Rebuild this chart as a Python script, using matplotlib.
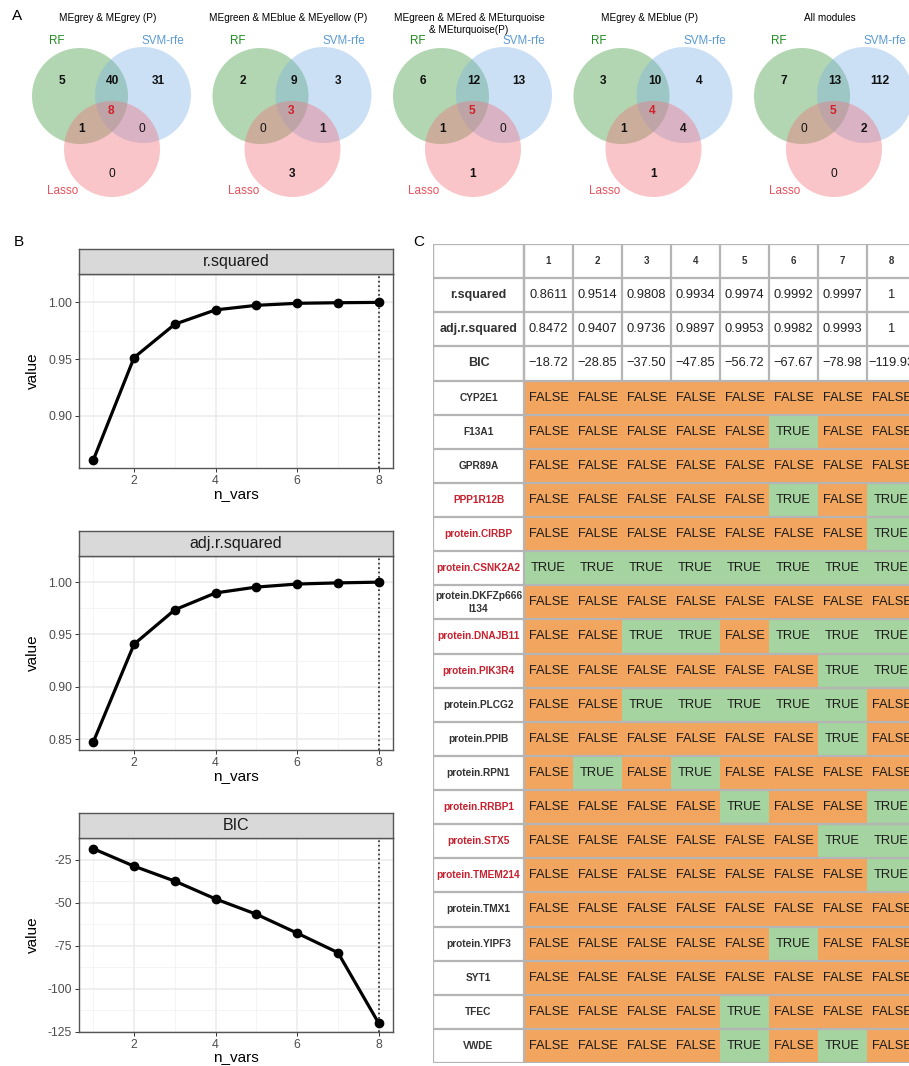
import numpy as np
import matplotlib.pyplot as plt
from matplotlib.patches import Circle, Rectangle

plt.rcParams['font.family'] = ['Liberation Sans', 'DejaVu Sans']
plt.rcParams['axes.unicode_minus'] = False

W, H = 909, 1066

# ---- panel A: venn counts
# order: RF only, RF&SVM, SVM only, all three, RF&Lasso, SVM&Lasso, Lasso only
venn_titles = ["MEgrey & MEgrey (P)",
               "MEgreen & MEblue & MEyellow (P)",
               "MEgreen & MEred & MEturquoise\n& MEturquoise(P)",
               "MEgrey & MEblue (P)",
               "All modules"]
venn_counts = [[5, 40, 31, 8, 1, 0, 0],
               [2, 9, 3, 3, 0, 1, 3],
               [6, 12, 13, 5, 1, 0, 1],
               [3, 10, 4, 4, 1, 4, 1],
               [7, 13, 112, 5, 0, 2, 0]]
set_names = ["RF", "SVM-rfe", "Lasso"]

# ---- panel B / C: subset regression
n_vars = [1, 2, 3, 4, 5, 6, 7, 8]
r_squared = [0.8611, 0.9514, 0.9808, 0.9934, 0.9974, 0.9992, 0.9997, 1.0]
adj_r_squared = [0.8472, 0.9407, 0.9736, 0.9897, 0.9953, 0.9982, 0.9993, 1.0]
bic = [-18.72, -28.85, -37.50, -47.85, -56.72, -67.67, -78.98, -119.93]

genes = ["CYP2E1", "F13A1", "GPR89A", "PPP1R12B", "protein.CIRBP",
         "protein.CSNK2A2", "protein.DKFZp666I134", "protein.DNAJB11",
         "protein.PIK3R4", "protein.PLCG2", "protein.PPIB", "protein.RPN1",
         "protein.RRBP1", "protein.STX5", "protein.TMEM214", "protein.TMX1",
         "protein.YIPF3", "SYT1", "TFEC", "VWDE"]
# model sizes in which each gene is selected
selected_in = [[], [6], [], [6, 8], [8],
               [1, 2, 3, 4, 5, 6, 7, 8], [], [3, 4, 6, 7, 8],
               [7, 8], [3, 4, 5, 6, 7], [7], [2, 4],
               [5, 8], [7, 8], [8], [],
               [6], [], [5], [5, 7]]
red_genes = ["PPP1R12B", "protein.CIRBP", "protein.CSNK2A2", "protein.DNAJB11",
             "protein.PIK3R4", "protein.RRBP1", "protein.STX5", "protein.TMEM214"]

fig = plt.figure(figsize=(W / 100, H / 100), dpi=100)


def px_axes(x0, y0, x1, y1):
    return fig.add_axes([x0 / W, 1 - y1 / H, (x1 - x0) / W, (y1 - y0) / H])


# ---------------- A: venn diagrams
circle_xy = [(80, 96), (143, 95), (112, 149)]
circle_r = 48
circle_cols = ['#3c9a3c', '#7fb2e5', '#f0707a']
label_cols = ['#1e8c1e', '#5b9bd5', '#e8505b']
label_xy = [(57, 41), (163, 41), (63, 191)]
region_xy = [(62, 81), (113, 81), (158, 81), (111, 111), (82, 129), (142, 129), (112, 174)]

for i, (title, counts) in enumerate(zip(venn_titles, venn_counts)):
    x0 = i * 180.5
    ax = px_axes(x0, 0, x0 + 200, 200)
    ax.set_xlim(0, 200)
    ax.set_ylim(200, 0)
    ax.axis('off')
    for (cx, cy), c in zip(circle_xy, circle_cols):
        ax.add_patch(Circle((cx, cy), circle_r, facecolor=c, alpha=0.4, edgecolor='none'))
    for (lx, ly), name, c in zip(label_xy, set_names, label_cols):
        ax.text(lx, ly, name, color=c, fontsize=8.4, ha='center', va='center')
    for k, ((rx, ry), n) in enumerate(zip(region_xy, counts)):
        col = '#d0202a' if k == 3 else '#111111'
        ax.text(rx, ry, str(n), color=col, fontsize=8.6, ha='center', va='center',
                fontweight='bold' if n != 0 else 'normal')
    ax.text(108, 13, title, fontsize=7.2, ha='center', va='top', linespacing=1.25)

fig.text(12 / W, 1 - 16 / H, "A", fontsize=11, va='center')
fig.text(14 / W, 1 - 242 / H, "B", fontsize=11, va='center')
fig.text(413 / W, 1 - 242 / H, "C", fontsize=11, va='center')

# ---------------- B: metric vs n_vars
b_panels = [("r.squared", r_squared, 274, 468, [0.90, 0.95, 1.00], "{:.2f}", 27),
            ("adj.r.squared", adj_r_squared, 556, 750, [0.85, 0.90, 0.95, 1.00], "{:.2f}", 27),
            ("BIC", bic, 838, 1032, [-125, -100, -75, -50, -25], "{:.0f}", 26)]

for name, vals, y0, y1, ticks, fmt, xlab_gap in b_panels:
    ax = px_axes(79, y0, 393, y1)
    lo, hi = min(vals), max(vals)
    pad = (hi - lo) * 0.05
    ax.set_ylim(lo - pad, hi + pad)
    ax.set_xlim(0.65, 8.35)
    ax.set_xticks([2, 4, 6, 8])
    ax.set_xticks([1, 3, 5, 7], minor=True)
    ax.set_yticks(ticks)
    ax.set_yticks([t + (ticks[1] - ticks[0]) / 2 for t in ticks], minor=True)
    ax.set_yticklabels([fmt.format(t) for t in ticks])
    ax.grid(which='major', color='#ebebeb', lw=1.1)
    ax.grid(which='minor', color='#f2f2f2', lw=0.6)
    ax.set_axisbelow(True)
    ax.tick_params(which='major', length=3, width=0.7, color='#333333',
                   labelsize=8.8, labelcolor='#4d4d4d', pad=2)
    ax.tick_params(which='minor', length=0)
    for s in ax.spines.values():
        s.set_color('#555555')
        s.set_linewidth(1)
    ax.axvline(n_vars[-1], ls=':', color='#222222', lw=1.2, zorder=1)
    ax.plot(n_vars, vals, color='black', lw=2.3, marker='o', markersize=6, zorder=3)
    ax.set_xlabel('n_vars', fontsize=11, va='center')
    ax.xaxis.set_label_coords(0.5, -xlab_gap / (y1 - y0))
    ax.set_ylabel('value', fontsize=11, va='center')
    ax.yaxis.set_label_coords(-(79 - 33) / 314, 0.5)

    st = px_axes(79, y0 - 25, 393, y0)
    st.set_xticks([])
    st.set_yticks([])
    st.set_facecolor('#d9d9d9')
    for s in st.spines.values():
        s.set_color('#555555')
        s.set_linewidth(1)
    st.text(0.5, 0.5, name, transform=st.transAxes, ha='center', va='center',
            fontsize=11.5, color='#1a1a1a')

# ---------------- C: table
label_w, col_w = 91, 49
n_rows = 4 + len(genes)
tab_h = 819
rh = tab_h / n_rows
col_edges = [0, label_w] + [label_w + col_w * k for k in range(1, 9)]
tw = col_edges[-1]

tab = px_axes(433, 244, 433 + tw, 244 + tab_h)
tab.set_xlim(0, tw)
tab.set_ylim(tab_h, 0)
tab.axis('off')

orange, green, grid_c = '#f2a55e', '#a6d4a0', '#b5b5b5'

head_rows = [("", [str(n) for n in n_vars]),
             ("r.squared", ["{:.4g}".format(v) for v in r_squared]),
             ("adj.r.squared", ["{:.4g}".format(v) for v in adj_r_squared]),
             ("BIC", ["{:.2f}".format(v).replace('-', '\u2212') for v in bic])]

for r, (lab, cells) in enumerate(head_rows):
    yc = (r + 0.5) * rh
    tab.text(label_w / 2, yc, lab, ha='center', va='center', fontsize=9,
             fontweight='bold', color='#333333')
    for j, txt in enumerate(cells):
        xc = (col_edges[j + 1] + col_edges[j + 2]) / 2
        if r == 0:
            tab.text(xc, yc, txt, ha='center', va='center', fontsize=7,
                     fontweight='bold', color='#333333')
        else:
            tab.text(xc, yc, txt, ha='center', va='center', fontsize=9.3, color='#222222')

for g, (gene, sel) in enumerate(zip(genes, selected_in)):
    r = 4 + g
    yc = (r + 0.5) * rh
    for j, n in enumerate(n_vars):
        is_sel = n in sel
        tab.add_patch(Rectangle((col_edges[j + 1], r * rh), col_w, rh,
                                facecolor=green if is_sel else orange, edgecolor='none'))
        tab.text(col_edges[j + 1] + col_w / 2, yc, "TRUE" if is_sel else "FALSE",
                 ha='center', va='center', fontsize=9.3, color='#1a1a1a')
    lab = gene if len(gene) < 17 else gene[:16] + "\n" + gene[16:]
    tab.text(label_w / 2, yc, lab, ha='center', va='center', fontsize=7.3,
             fontweight='bold', linespacing=1.3,
             color='#c8202f' if gene in red_genes else '#333333')

for r in range(n_rows + 1):
    tab.plot([0, tw], [r * rh, r * rh], color=grid_c, lw=1.6, solid_capstyle='butt')
for x in col_edges:
    tab.plot([x, x], [0, 4 * rh], color=grid_c, lw=1.6)
for x in col_edges[:2]:
    tab.plot([x, x], [0, tab_h], color=grid_c, lw=1.6)

fig.savefig("out.png", dpi=100)
